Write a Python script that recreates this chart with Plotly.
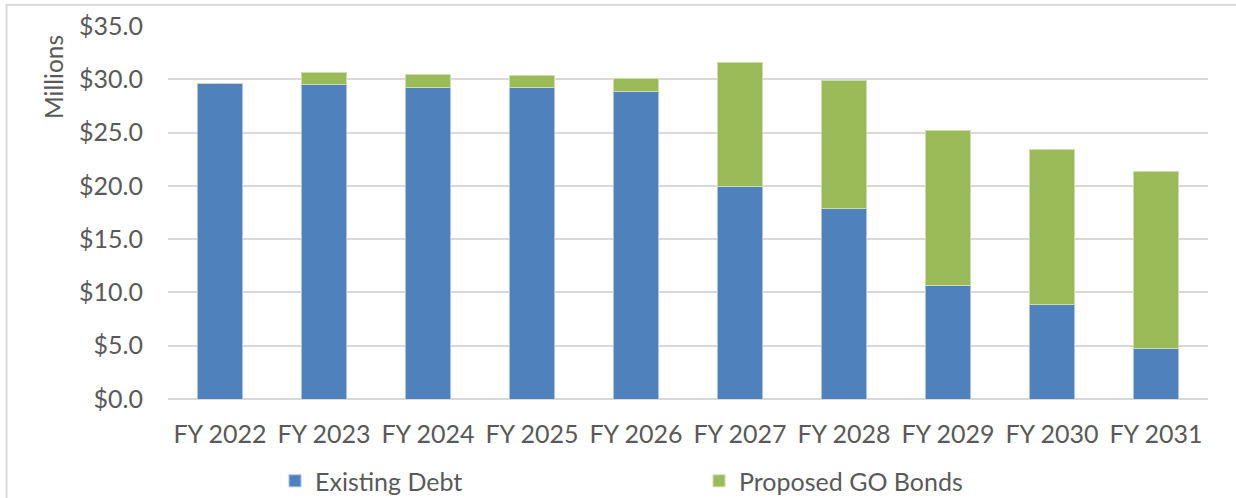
import plotly.graph_objects as go

categories = ["FY 2022", "FY 2023", "FY 2024", "FY 2025", "FY 2026",
              "FY 2027", "FY 2028", "FY 2029", "FY 2030", "FY 2031"]
existing_debt = [29.59, 29.47, 29.22, 29.22, 28.85, 19.94, 17.88, 10.66, 8.85, 4.72]
proposed_go = [0.0, 1.21, 1.20, 1.16, 1.19, 11.64, 12.05, 14.51, 14.54, 16.63]
y_ticks = [0, 5, 10, 15, 20, 25, 30, 35]
y_tick_labels = ["$%.1f" % v for v in y_ticks]

FONT = "Lato"
TXT = "#595959"

L, R, T, B = 168, 28, 26, 99
W, H = 1236, 498
pw, ph = W - L - R, H - T - B

fig = go.Figure()
fig.add_trace(go.Bar(x=categories, y=existing_debt, name="Existing Debt",
                     marker=dict(color="#4F81BD", line=dict(color="#a9c0de", width=1))))
fig.add_trace(go.Bar(x=categories, y=proposed_go, name="Proposed GO Bonds",
                     marker=dict(color="#9BBB59", line=dict(color="#cddcae", width=1))))

fig.update_layout(
    width=W, height=H,
    barmode="stack", bargap=0.567,
    margin=dict(l=L, r=R, t=T, b=B, autoexpand=False),
    paper_bgcolor="white", plot_bgcolor="white",
    font=dict(family=FONT, size=25, color=TXT),
    showlegend=True,
    legend=dict(orientation="h", xref="container", yref="container",
                x=0.2225, y=0.034, xanchor="left", yanchor="middle",
                entrywidth=379, entrywidthmode="pixels",
                font=dict(family=FONT, size=25, color=TXT),
                itemclick=False, traceorder="normal"),
    xaxis=dict(showgrid=False, showline=False, ticks="", ticklabelstandoff=18,
               tickfont=dict(size=25, color=TXT)),
    yaxis=dict(range=[0, 35], tickvals=y_ticks, ticktext=y_tick_labels,
               showgrid=True, gridcolor="#d9d9d9", gridwidth=1.5,
               zeroline=True, zerolinecolor="#d9d9d9", zerolinewidth=1.5,
               showline=False, ticks="", ticklabelstandoff=24,
               tickfont=dict(size=25, color=TXT)),
    annotations=[dict(text="Millions", textangle=-90, xref="paper", yref="paper",
                      x=(53 - L) / pw, y=(H - B - 77) / ph, xanchor="center", yanchor="middle",
                      showarrow=False, font=dict(family=FONT, size=24.5, color=TXT))],
    shapes=[dict(type="rect", xref="paper", yref="paper",
                 x0=(6.5 - L) / pw, x1=(W + 10 - L) / pw,
                 y0=(H - B - H - 10) / ph, y1=(H - B - 4.7) / ph,
                 line=dict(color="#d9d9d9", width=2), fillcolor="rgba(0,0,0,0)")],
)

fig.write_html("out.html")
